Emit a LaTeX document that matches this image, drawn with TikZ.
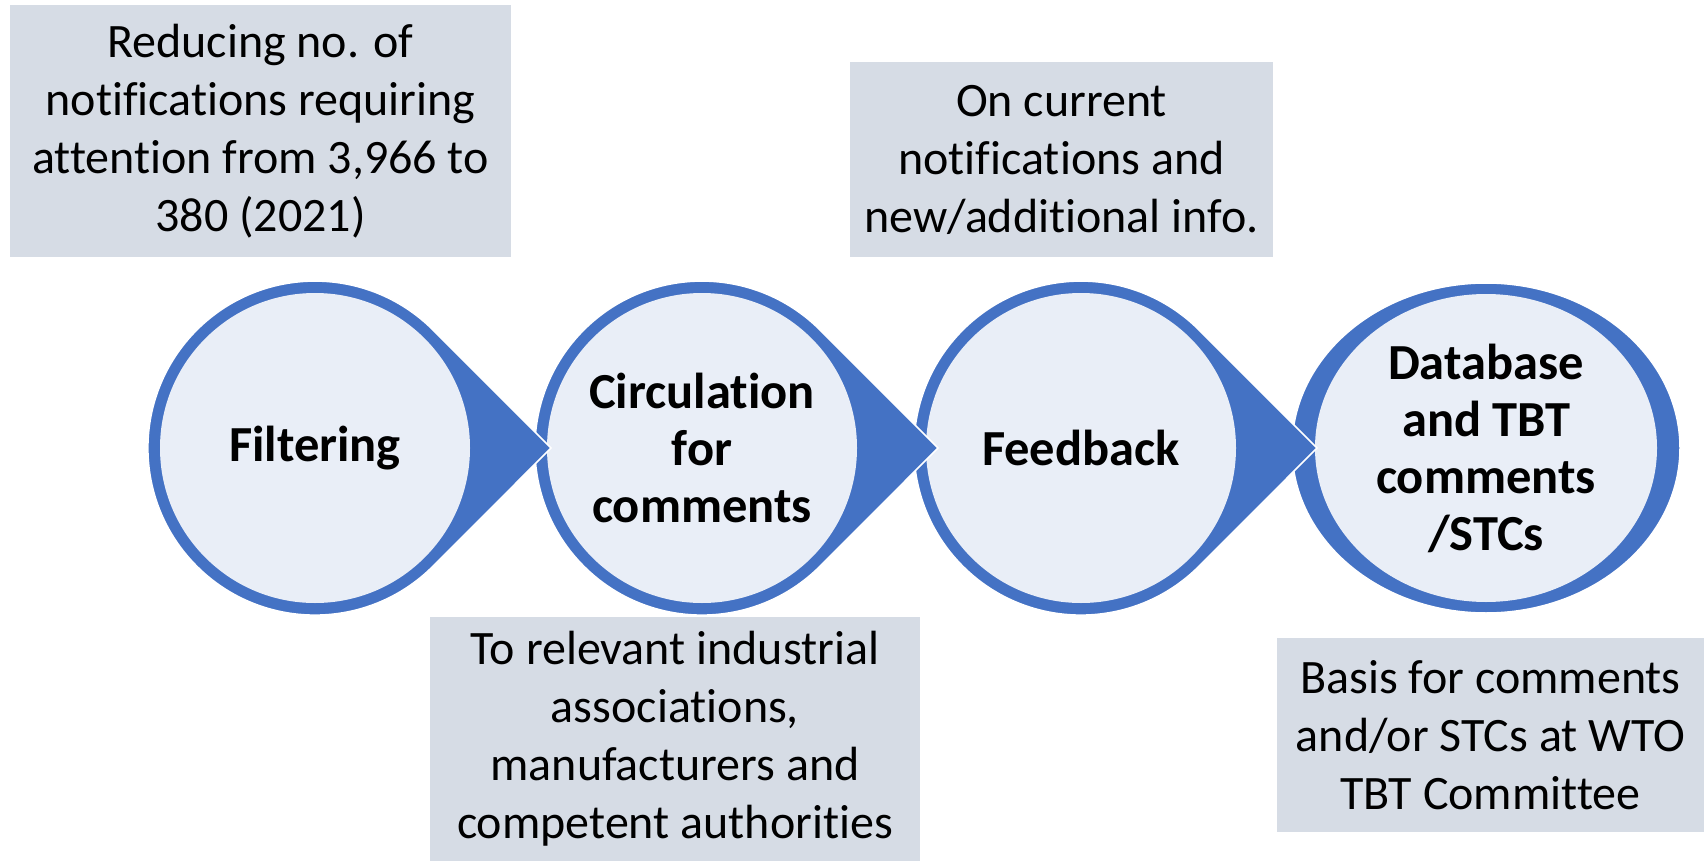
\documentclass[tikz,border=0pt]{standalone}
\usepackage{fontspec}
\setmainfont{Carlito}[Ligatures=NoCommon]
\usetikzlibrary{shapes,calc,positioning}

\definecolor{stepblue}{HTML}{4472C4}
\definecolor{steplight}{HTML}{E9EEF7}
\definecolor{notegray}{HTML}{D6DCE5}

\begin{document}
\begin{tikzpicture}[x=1pt,y=-1pt,
	tear/.style={fill=stepblue,draw=white,line width=1.5pt},
	stepnode/.style={circle,fill=steplight,inner sep=0pt,minimum size=310pt,align=center,font=\fontsize{50.5}{57}\selectfont\bfseries},
	note/.style={rectangle,fill=notegray,inner sep=0pt,align=center,font=\fontsize{48}{58}\selectfont}]
		\useasboundingbox (0,0) rectangle (1706,861);
		% notes
		\node[note,minimum width=501pt,minimum height=252pt] (n1) at (260.5,131) {Reducing no. of\\notifications requiring\\attention from 3,966 to\\380 (2021)};
		\node[note,minimum width=423pt,minimum height=195pt] (n3) at (1061.5,159.5) {On current\\notifications and\\new/additional info.};
		\node[note,minimum width=490pt,minimum height=244pt] (n2) at (675,739) {To relevant industrial\\associations,\\manufacturers and\\competent authorities};
		\node[note,minimum width=427pt,minimum height=194pt] (n4) at (1490.5,735) {Basis for comments\\and/or STCs at WTO\\TBT Committee};
		% steps, right to left so each tip lies on the next one
		\coordinate (c1) at (315,448);
		\coordinate (c2) at (702,448);
		\coordinate (c3) at (1081,448);
		\coordinate (c4) at (1486,448);
		\fill[tear] (c4) ellipse [x radius=194pt,y radius=165pt];
		\node[stepnode,ellipse,minimum width=342pt,minimum height=308pt] (db) at (c4) {Database\\and TBT\\comments\\/STCs};
		\fill[tear] ($(c3)+(236,0)$) -- ($(c3)+(118,-118)$) arc[start angle=45,end angle=315,radius=167pt] -- cycle;
		\node[stepnode] (fb) at (c3) {Feedback};
		\fill[tear] ($(c2)+(236,0)$) -- ($(c2)+(118,-118)$) arc[start angle=45,end angle=315,radius=167pt] -- cycle;
		\node[stepnode] (circ) at (c2) {Circulation\\for\\comments};
		\fill[tear] ($(c1)+(236,0)$) -- ($(c1)+(118,-118)$) arc[start angle=45,end angle=315,radius=167pt] -- cycle;
		\node[stepnode] (filt) at (c1) {Filtering};
\end{tikzpicture}
\end{document}
